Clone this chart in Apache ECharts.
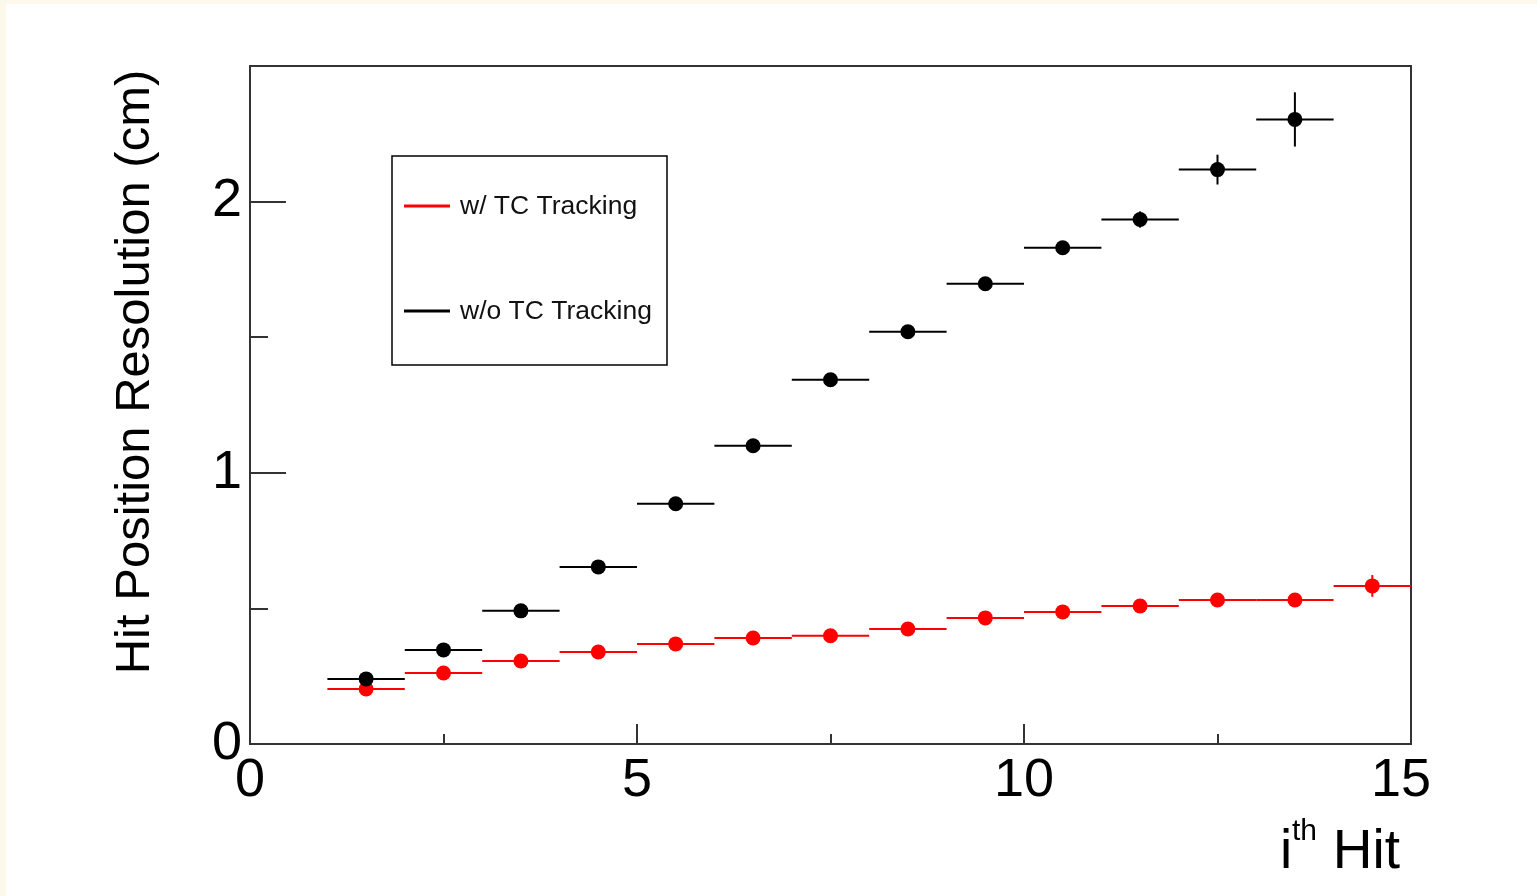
<!DOCTYPE html>
<html>
<head>
<meta charset="utf-8">
<title>Hit Position Resolution</title>
<script src="https://cdn.jsdelivr.net/npm/echarts@6/dist/echarts.min.js"></script>
<style>
  html, body { margin: 0; padding: 0; background: #fcf8ea; overflow: hidden; }
  #chart { position: absolute; left: 6px; top: 4px; width: 1531px; height: 892px; background: #ffffff; }
</style>
</head>
<body>
<div id="chart"></div>
<script>
// Bin centres (i-th hit) and half bin width
const hitsWithTC = [1.5, 2.5, 3.5, 4.5, 5.5, 6.5, 7.5, 8.5, 9.5, 10.5, 11.5, 12.5, 13.5, 14.5];
const hitsWithoutTC = [1.5, 2.5, 3.5, 4.5, 5.5, 6.5, 7.5, 8.5, 9.5, 10.5, 11.5, 12.5, 13.5];
const binHalfWidth = 0.5;

// Resolution (cm) and its uncertainty
const resWithTC = [0.203, 0.262, 0.306, 0.339, 0.369, 0.391, 0.399, 0.424, 0.465, 0.487, 0.509, 0.531, 0.531, 0.583];
const errWithTC = [0.012, 0.012, 0.012, 0.012, 0.012, 0.014, 0.014, 0.014, 0.015, 0.015, 0.015, 0.016, 0.018, 0.040];
const resWithoutTC = [0.240, 0.347, 0.491, 0.653, 0.886, 1.100, 1.343, 1.520, 1.697, 1.830, 1.934, 2.118, 2.303];
const errWithoutTC = [0.012, 0.012, 0.014, 0.014, 0.016, 0.018, 0.020, 0.020, 0.022, 0.024, 0.030, 0.055, 0.100];

const seriesNames = ['w/ TC Tracking', 'w/o TC Tracking'];
const seriesColors = ['#ff0000', '#000000'];

const xTitleMain = 'i';
const xTitleSup = 'th';
const xTitleRest = 'Hit';
const yTitle = 'Hit Position Resolution (cm)';

const FONT = '"Liberation Sans", Arial, Helvetica, sans-serif';

function toRows(xs, ys, es) {
  return xs.map((x, i) => [x, ys[i], es[i]]);
}

function errorBarRenderer(color) {
  return function (params, api) {
    const x = api.value(0), y = api.value(1), e = api.value(2);
    const l = api.coord([x - binHalfWidth, y]);
    const r = api.coord([x + binHalfWidth, y]);
    const t = api.coord([x, y + e]);
    const b = api.coord([x, y - e]);
    return {
      type: 'group',
      children: [
        { type: 'line', shape: { x1: l[0], y1: l[1], x2: r[0], y2: r[1] }, style: { stroke: color, lineWidth: 2 } },
        { type: 'line', shape: { x1: t[0], y1: t[1], x2: b[0], y2: b[1] }, style: { stroke: color, lineWidth: 2 } }
      ]
    };
  };
}

const dataWithTC = toRows(hitsWithTC, resWithTC, errWithTC);
const dataWithoutTC = toRows(hitsWithoutTC, resWithoutTC, errWithoutTC);

const chart = echarts.init(document.getElementById('chart'), null, { renderer: 'canvas' });

const axisColor = '#333333';

chart.setOption({
  animation: false,
  backgroundColor: '#ffffff',
  grid: {
    left: 244, top: 62, width: 1161, height: 678,
    show: true, borderColor: axisColor, borderWidth: 2, backgroundColor: 'transparent'
  },
  xAxis: {
    type: 'value', min: 0, max: 15, interval: 5,
    axisLine: { show: true, onZero: false, lineStyle: { color: axisColor, width: 2 } },
    axisTick: { show: true, inside: true, length: 20, lineStyle: { color: axisColor, width: 2 } },
    minorTick: { show: true, splitNumber: 2, length: 10, lineStyle: { color: axisColor, width: 2 } },
    splitLine: { show: false },
    axisLabel: {
      fontSize: 54, color: '#000', fontFamily: FONT, margin: 10,
      // the last label is pulled in slightly from the frame corner
      formatter: v => (v === 15 ? '{last|' + v + '}' : String(v)),
      rich: { last: { fontSize: 54, color: '#000', fontFamily: FONT, padding: [0, 20, 0, 0] } }
    }
  },
  yAxis: [
    {
      type: 'value', min: 0, max: 2.5, interval: 0.5, position: 'left',
      axisLine: { show: true, onZero: false, lineStyle: { color: axisColor, width: 2 } },
      axisTick: { show: true, inside: true, length: 18, lineStyle: { color: axisColor, width: 2 } },
      axisLabel: { show: false },
      splitLine: { show: false }
    },
    {
      type: 'value', min: 0, max: 2.5, interval: 1, position: 'left',
      axisLine: { show: false },
      axisTick: { show: true, inside: true, length: 36, lineStyle: { color: axisColor, width: 2 } },
      axisLabel: {
        fontSize: 54, color: '#000', fontFamily: FONT, margin: 8,
        formatter: v => (Number.isInteger(v) ? String(v) : '')
      },
      splitLine: { show: false }
    }
  ],
  series: [
    {
      name: seriesNames[0] + ' errors', type: 'custom', yAxisIndex: 0,
      renderItem: errorBarRenderer(seriesColors[0]),
      data: dataWithTC, z: 2, clip: false
    },
    {
      name: seriesNames[1] + ' errors', type: 'custom', yAxisIndex: 0,
      renderItem: errorBarRenderer(seriesColors[1]),
      data: dataWithoutTC, z: 2, clip: false
    },
    {
      name: seriesNames[0], type: 'scatter', yAxisIndex: 0,
      symbol: 'circle', symbolSize: 15,
      itemStyle: { color: seriesColors[0], opacity: 1 },
      data: dataWithTC.map(r => [r[0], r[1]]), z: 3
    },
    {
      name: seriesNames[1], type: 'scatter', yAxisIndex: 0,
      symbol: 'circle', symbolSize: 15,
      itemStyle: { color: seriesColors[1], opacity: 1 },
      data: dataWithoutTC.map(r => [r[0], r[1]]), z: 3
    }
  ],
  graphic: [
    // Y axis title
    {
      type: 'text', x: 129, y: 368, rotation: Math.PI / 2,
      style: { text: yTitle, fontSize: 49, fontFamily: FONT, fill: '#000', align: 'center', verticalAlign: 'middle' }
    },
    // X axis title: i^th Hit
    {
      type: 'text', x: 1274, y: 849,
      style: { text: xTitleMain, fontSize: 55, fontFamily: FONT, fill: '#000', align: 'left', verticalAlign: 'middle' }
    },
    {
      type: 'text', x: 1286, y: 828,
      style: { text: xTitleSup, fontSize: 30, fontFamily: FONT, fill: '#000', align: 'left', verticalAlign: 'middle' }
    },
    {
      type: 'text', x: 1394, y: 849,
      style: { text: xTitleRest, fontSize: 55, fontFamily: FONT, fill: '#000', align: 'right', verticalAlign: 'middle' }
    },
    // Legend box
    {
      type: 'group', x: 386, y: 152,
      children: [
        { type: 'rect', shape: { x: 0, y: 0, width: 275, height: 209 }, style: { fill: '#fff', stroke: '#000', lineWidth: 1.5 } },
        { type: 'line', shape: { x1: 12, y1: 50, x2: 58, y2: 50 }, style: { stroke: seriesColors[0], lineWidth: 3 } },
        { type: 'text', x: 68, y: 51, style: { text: seriesNames[0], fontSize: 26.5, fontFamily: FONT, fill: '#111', align: 'left', verticalAlign: 'middle' } },
        { type: 'line', shape: { x1: 12, y1: 155, x2: 58, y2: 155 }, style: { stroke: seriesColors[1], lineWidth: 3 } },
        { type: 'text', x: 68, y: 156, style: { text: seriesNames[1], fontSize: 26.5, fontFamily: FONT, fill: '#111', align: 'left', verticalAlign: 'middle' } }
      ]
    }
  ]
});
</script>
</body>
</html>
